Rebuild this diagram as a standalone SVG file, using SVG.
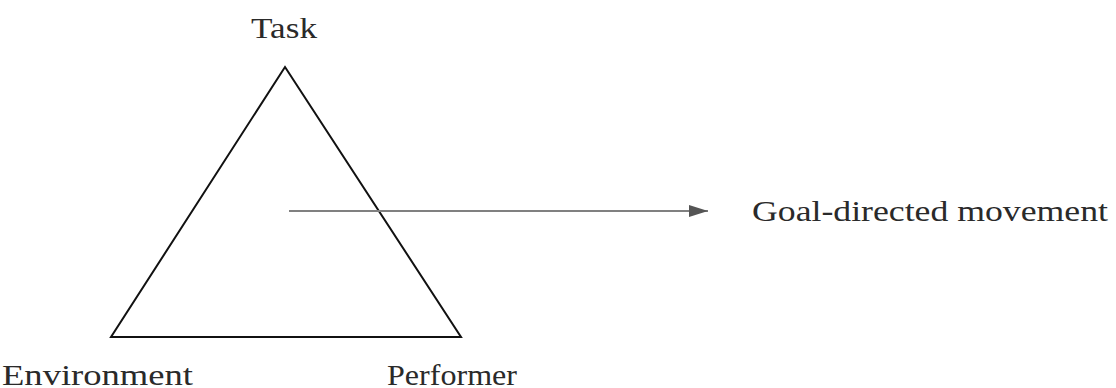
<svg xmlns="http://www.w3.org/2000/svg" width="1116" height="388" viewBox="0 0 1116 388">
<style>
.lbl{font-family:"Liberation Serif","DejaVu Serif",serif;font-size:29px;fill:#2a2a2a}
.tri{fill:none;stroke:#111;stroke-width:2;stroke-linejoin:miter}
.arr{stroke:#808080;stroke-width:2.2;fill:none}
</style>
<defs>
<marker id="ah" markerWidth="19" markerHeight="12" refX="19" refY="6" orient="auto" markerUnits="userSpaceOnUse" viewBox="0 0 19 12">
<path d="M0,0 L19,6 L0,12 z" fill="#555"/>
</marker>
</defs>
<rect width="1116" height="388" fill="#fff"/>
<g id="triangle"><path class="tri" d="M285,67 L461,337 L111,337 Z"/></g>
<g id="task"><text class="lbl" x="251" y="38" textLength="66" lengthAdjust="spacingAndGlyphs">Task</text></g>
<g id="environment"><text class="lbl" x="2" y="385" textLength="191" lengthAdjust="spacingAndGlyphs">Environment</text></g>
<g id="performer"><text class="lbl" x="387" y="385" textLength="130" lengthAdjust="spacingAndGlyphs">Performer</text></g>
<g id="goal"><text class="lbl" x="752" y="221" textLength="356" lengthAdjust="spacingAndGlyphs">Goal-directed  movement</text></g>
<g id="connectors"><line class="arr" x1="289" y1="211" x2="708" y2="211" marker-end="url(#ah)"/></g>
</svg>
